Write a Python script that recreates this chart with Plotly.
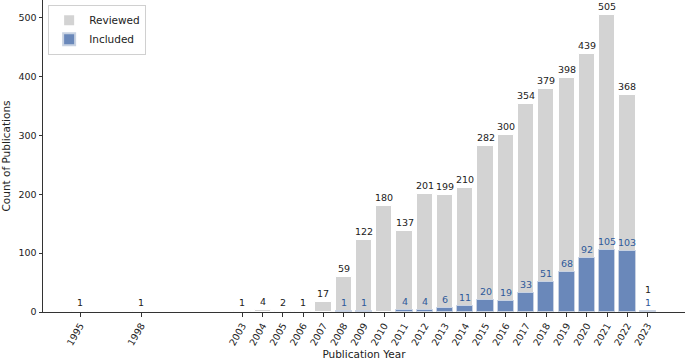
import plotly.graph_objects as go

years = [1995, 1998, 2003, 2004, 2005, 2006, 2007, 2008, 2009, 2010, 2011, 2012,
         2013, 2014, 2015, 2016, 2017, 2018, 2019, 2020, 2021, 2022, 2023]
reviewed = [1, 1, 1, 4, 2, 1, 17, 59, 122, 180, 137, 201,
            199, 210, 282, 300, 354, 379, 398, 439, 505, 368, 1]
included = [None, None, None, None, None, None, None, 1, 1, None, 4, 4,
            6, 11, 20, 19, 33, 51, 68, 92, 105, 103, 1]

GRAY = "#d3d3d3"
BLUE = "#6a88ba"
BLUE_TXT = "#2f5a9a"
FONT = "DejaVu Sans"

fig = go.Figure()
fig.add_trace(go.Bar(
    x=years, y=reviewed, name="Reviewed", width=0.8,
    marker=dict(color=GRAY, line=dict(color="white", width=1)),
))
inc_x = [y for y, v in zip(years, included) if v is not None]
inc_y = [v for v in included if v is not None]
fig.add_trace(go.Bar(
    x=inc_x, y=inc_y, name="Included", width=0.8,
    marker=dict(color=BLUE, line=dict(color="#c8d2e2", width=1)),
))

ann = []
inc_map = dict(zip(inc_x, inc_y))
for yr, v in zip(years, reviewed):
    extra = 13 if inc_map.get(yr) == v else 0
    ann.append(dict(x=yr, y=v, text=str(v), showarrow=False, yanchor="bottom",
                    yshift=1 + extra, font=dict(family=FONT, size=9.5, color="#222")))
for yr, v in zip(inc_x, inc_y):
    ann.append(dict(x=yr, y=v, text=str(v), showarrow=False, yanchor="bottom",
                    yshift=1, font=dict(family=FONT, size=9.5, color=BLUE_TXT)))

fig.update_layout(
    width=685, height=360,
    margin=dict(l=43, r=0, t=0, b=48),
    plot_bgcolor="white", paper_bgcolor="white",
    barmode="overlay", bargap=0,
    font=dict(family=FONT, size=10, color="#222"),
    annotations=ann,
    showlegend=True,
    legend=dict(x=0.008, y=0.985, xanchor="left", yanchor="top",
                bgcolor="rgba(255,255,255,0.8)", bordercolor="#d0d0d0", borderwidth=1,
                font=dict(family=FONT, size=10.5, color="#222"),
                itemsizing="constant", tracegroupgap=0, itemwidth=30),
    xaxis=dict(range=[1993.16, 2024.84], tickmode="array", tickvals=years,
               ticktext=[str(y) for y in years], tickangle=-60,
               showline=True, linecolor="#333", linewidth=1,
               ticks="outside", ticklen=3.5, tickcolor="#333", showgrid=False,
               zeroline=False, tickfont=dict(size=9.5),
               title=dict(text="Publication Year", font=dict(size=10.5), standoff=4)),
    yaxis=dict(range=[0, 530.25], tickvals=[0, 100, 200, 300, 400, 500],
               showline=True, linecolor="#333", linewidth=1,
               ticks="outside", ticklen=3.5, tickcolor="#333", showgrid=False,
               zeroline=False, tickfont=dict(size=9.5),
               title=dict(text="Count of Publications", font=dict(size=10.5), standoff=8)),
)

fig.write_html("out.html", config={"displayModeBar": False},
               post_script="document.body.style.margin='0';")
